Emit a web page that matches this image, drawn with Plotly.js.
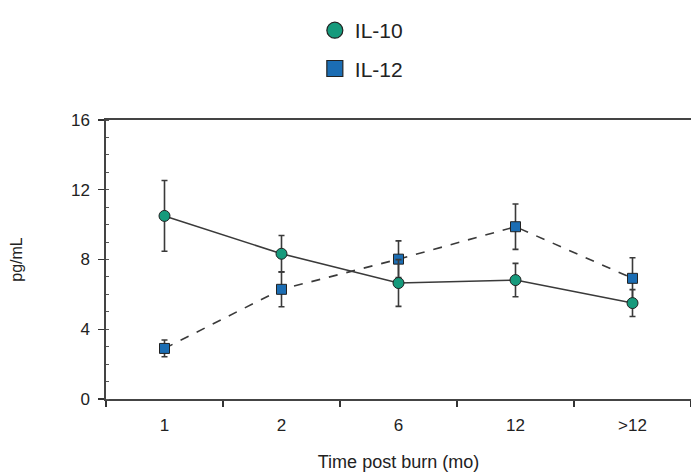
<!DOCTYPE html>
<html>
<head>
<meta charset="utf-8">
<script src="https://cdn.plot.ly/plotly-3.0.1.min.js"></script>
<style>html,body{margin:0;padding:0;background:#fff;}#chart{width:691px;height:472px;}</style>
</head>
<body>
<div id="chart"></div>
<script>
var categories = ["1", "2", "6", "12", ">12"];
var il10 = [10.5, 8.33, 6.65, 6.82, 5.5];
var il10Err = [2.03, 1.05, 1.34, 0.96, 0.77];
var il12 = [2.9, 6.29, 8.02, 9.88, 6.92];
var il12Err = [0.48, 1.0, 1.05, 1.3, 1.18];
var yTicks = [0, 4, 8, 12, 16];

var lineCol = "#3a3a3a";
var c10 = "#169a7c";
var c12 = "#1b6db3";

var traces = [
  {
    x: categories, y: il12, type: "scatter", mode: "lines+markers", showlegend: false,
    line: {color: lineCol, width: 1.6, dash: "dash"},
    marker: {symbol: "square", size: 10, color: c12, line: {color: "#222", width: 1}},
    error_y: {type: "data", array: il12Err, visible: true, color: lineCol, thickness: 1.6, width: 3}
  },
  {
    x: categories, y: il10, type: "scatter", mode: "lines+markers", showlegend: false,
    line: {color: lineCol, width: 1.6},
    marker: {symbol: "circle", size: 11, color: c10, line: {color: "#222", width: 1}},
    error_y: {type: "data", array: il10Err, visible: true, color: lineCol, thickness: 1.6, width: 3}
  },
  {
    x: [null], y: [null], type: "scatter", mode: "markers", name: "IL-10", legendgroup: "a",
    marker: {symbol: "circle", size: 16, color: c10, line: {color: "#222", width: 1.2}}
  },
  {
    x: [null], y: [null], type: "scatter", mode: "markers", name: "IL-12", legendgroup: "b",
    marker: {symbol: "square", size: 16, color: c12, line: {color: "#222", width: 1.2}}
  }
];

var layout = {
  width: 691, height: 472,
  margin: {l: 106, r: 0, t: 120, b: 73, autoexpand: false},
  paper_bgcolor: "#fff", plot_bgcolor: "#fff",
  font: {family: "Liberation Sans, Arial, sans-serif", color: "#222", size: 16},
  showlegend: true,
  legend: {
    x: 0.357, y: 1.394, xref: "paper", yref: "paper", xanchor: "left", yanchor: "top",
    font: {size: 21, color: "#222"}, tracegroupgap: 8, bgcolor: "rgba(0,0,0,0)"
  },
  xaxis: {
    type: "category", range: [-0.5, 4.5], tickson: "boundaries",
    ticks: "outside", ticklen: 6, tickwidth: 1.2, tickcolor: "#333",
    showline: true, linecolor: "#444", linewidth: 1.6, mirror: true,
    showgrid: false, zeroline: false, fixedrange: true, automargin: false,
    tickfont: {size: 17, color: "#222"}, ticklabelstandoff: 10,
    title: {text: "Time post burn (mo)", font: {size: 18, color: "#222"}, standoff: 22}
  },
  yaxis: {
    range: [0, 16], tickvals: yTicks, ticktext: yTicks.map(String),
    ticks: "outside", ticklen: 6, tickwidth: 1.2, tickcolor: "#333",
    minor: {dtick: 1, ticks: "inside", ticklen: 3, tickwidth: 1, tickcolor: "#555", showgrid: false},
    showline: true, linecolor: "#444", linewidth: 1.6, mirror: false,
    showgrid: false, zeroline: false, fixedrange: true, automargin: false,
    tickfont: {size: 17, color: "#222"}, ticklabelstandoff: 5,
    title: {text: "pg/mL", font: {size: 16, color: "#222"}, standoff: 44}
  }
};

Plotly.newPlot("chart", traces, layout, {displayModeBar: false, staticPlot: true});
</script>
</body>
</html>
